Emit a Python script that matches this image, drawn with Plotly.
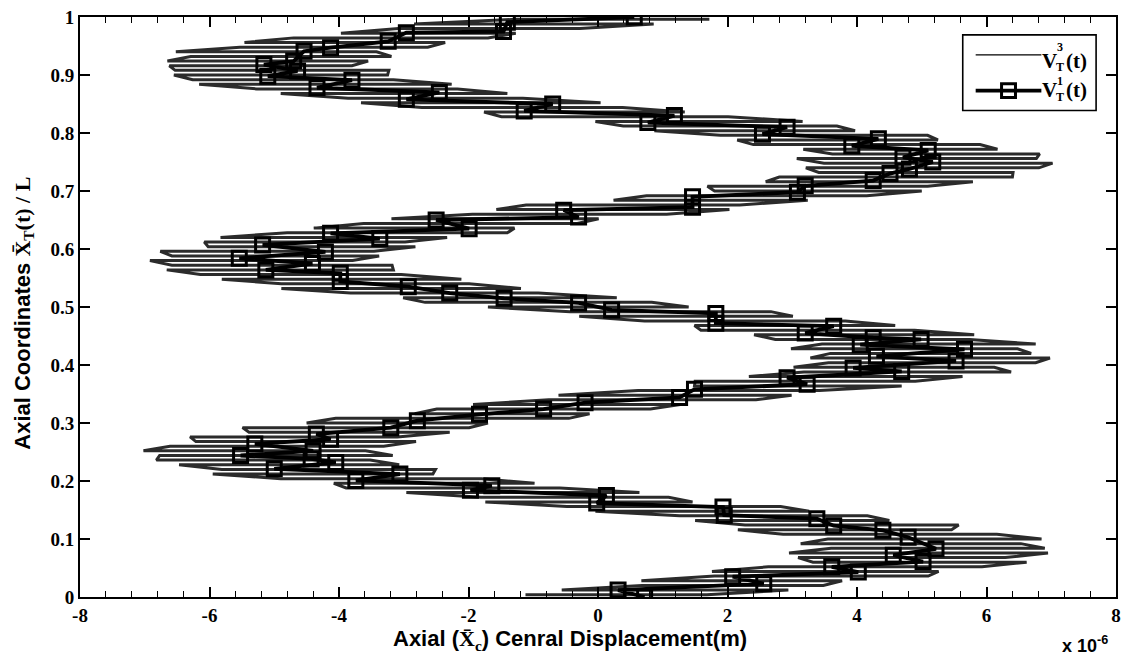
import plotly.graph_objects as go

# Displacement values are in units of 1e-6 m (the axis carries the "x 10^-6" factor).

# V_T^3(t): fine-scale response, one horizontal sweep per axial level
thin_y = [0.004, 0.012, 0.020, 0.028, 0.036, 0.044, 0.052, 0.060, 0.068, 0.076,
          0.084, 0.092, 0.100, 0.108, 0.116, 0.124, 0.132, 0.140, 0.148, 0.156,
          0.164, 0.172, 0.180, 0.188, 0.196, 0.204, 0.212, 0.220, 0.228, 0.236,
          0.244, 0.252, 0.260, 0.268, 0.276, 0.284, 0.292, 0.300, 0.308, 0.316,
          0.324, 0.332, 0.340, 0.348, 0.356, 0.364, 0.372, 0.380, 0.388, 0.396,
          0.404, 0.412, 0.420, 0.428, 0.436, 0.444, 0.452, 0.460, 0.468, 0.476,
          0.484, 0.492, 0.500, 0.508, 0.516, 0.524, 0.532, 0.540, 0.548, 0.556,
          0.564, 0.572, 0.580, 0.588, 0.596, 0.604, 0.612, 0.620, 0.628, 0.636,
          0.644, 0.652, 0.660, 0.668, 0.676, 0.684, 0.692, 0.700, 0.708, 0.716,
          0.724, 0.732, 0.740, 0.748, 0.756, 0.764, 0.772, 0.780, 0.788, 0.796,
          0.804, 0.812, 0.820, 0.828, 0.836, 0.844, 0.852, 0.860, 0.868, 0.876,
          0.884, 0.892, 0.900, 0.908, 0.916, 0.924, 0.932, 0.940, 0.948, 0.956,
          0.964, 0.972, 0.980, 0.988, 0.996]

thin_left = [-1.12, -0.56, 0.68, 0.67, 1.80, 1.76, 2.63, 3.32, 3.09, 2.95,
             3.60, 3.13, 3.55, 2.86, 2.16, 2.27, 1.50, 1.26, -0.04, -0.48,
             -1.74, -1.81, -2.96, -3.89, -4.08, -4.90, -5.95, -5.81, -6.47, -6.82,
             -6.77, -7.02, -6.61, -6.21, -6.30, -5.39, -5.49, -4.50, -4.05, -2.83,
             -2.49, -1.93, -0.76, -0.61, 0.62, 1.49, 1.50, 2.33, 3.18, 3.02,
             3.56, 3.28, 3.59, 2.98, 3.46, 2.74, 2.41, 1.59, 1.49, 0.72,
             -0.29, -0.43, -1.70, -2.67, -3.01, -3.82, -4.89, -4.89, -5.81, -6.14,
             -6.66, -6.58, -6.92, -6.58, -6.76, -6.02, -6.08, -5.83, -4.80, -4.39,
             -3.62, -3.19, -1.94, -1.57, -1.11, 0.24, 0.75, 1.80, 1.69, 2.59,
             2.80, 3.41, 3.21, 3.49, 3.07, 3.62, 3.17, 2.40, 2.15, 1.89,
             0.87, 0.39, -0.04, -1.49, -1.76, -2.72, -3.66, -3.86, -4.90, -5.27,
             -6.16, -6.26, -6.55, -6.53, -6.62, -6.65, -6.29, -6.52, -5.53, -5.46,
             -4.70, -3.97, -3.08, -2.84, -1.28]

thin_right = [1.68, 2.94, 3.48, 3.77, 5.10, 5.26, 5.93, 6.62, 6.29, 6.95,
              6.90, 6.53, 6.85, 6.16, 5.46, 5.57, 4.50, 4.16, 3.26, 2.82,
              1.46, 1.09, 0.64, -0.59, -0.98, -1.80, -2.55, -2.51, -3.07, -3.52,
              -3.17, -3.59, -3.31, -2.81, -3.10, -2.29, -1.99, -1.70, -0.45, -0.13,
              0.81, 1.27, 2.44, 2.99, 3.42, 4.69, 4.90, 5.63, 6.38, 6.12,
              6.76, 6.98, 6.69, 6.48, 6.76, 5.74, 5.81, 4.89, 4.59, 3.82,
              3.01, 2.67, 1.40, 0.83, 0.29, -0.92, -1.19, -1.99, -2.11, -3.04,
              -3.16, -3.18, -3.79, -3.38, -3.46, -2.82, -2.98, -2.33, -1.40, -1.29,
              -0.32, 0.01, 1.06, 2.03, 2.19, 3.24, 4.15, 5.00, 5.09, 5.79,
              6.40, 6.41, 6.81, 7.02, 6.77, 6.82, 6.17, 5.90, 5.25, 5.09,
              3.97, 3.69, 3.16, 2.01, 1.34, 0.38, 0.04, -1.16, -1.40, -2.17,
              -2.26, -3.16, -3.25, -3.23, -3.80, -3.55, -3.19, -3.42, -2.63, -2.36,
              -1.70, -1.27, -0.28, 0.86, 1.72]

# V_T^1(t): marked response
v1_y = [0.000, 0.012, 0.023, 0.035, 0.043, 0.052, 0.061, 0.072, 0.083, 0.103,
        0.115, 0.123, 0.135, 0.141, 0.155, 0.162, 0.175, 0.184, 0.192, 0.201,
        0.212, 0.221, 0.232, 0.238, 0.244, 0.252, 0.264, 0.272, 0.281, 0.292,
        0.304, 0.315, 0.324, 0.335, 0.344, 0.358, 0.367, 0.378, 0.389, 0.395,
        0.407, 0.415, 0.427, 0.435, 0.444, 0.447, 0.455, 0.467, 0.472, 0.489,
        0.495, 0.507, 0.515, 0.524, 0.535, 0.544, 0.558, 0.564, 0.575, 0.584,
        0.595, 0.607, 0.618, 0.627, 0.635, 0.650, 0.655, 0.667, 0.672, 0.690,
        0.698, 0.709, 0.718, 0.730, 0.738, 0.750, 0.758, 0.770, 0.778, 0.790,
        0.798, 0.810, 0.818, 0.830, 0.838, 0.850, 0.858, 0.870, 0.878, 0.891,
        0.898, 0.907, 0.918, 0.924, 0.941, 0.947, 0.958, 0.973, 0.975, 0.991, 1.000]

v1_x = [0.72, 0.31, 2.56, 2.08, 4.02, 3.61, 5.02, 4.56, 5.22, 4.79,
        4.40, 3.64, 3.38, 1.95, 1.93, -0.02, 0.13, -1.97, -1.64, -3.74,
        -3.06, -5.00, -4.05, -4.43, -5.52, -4.40, -5.30, -4.13, -4.35, -3.20,
        -2.79, -1.83, -0.84, -0.20, 1.26, 1.49, 3.23, 2.92, 4.69, 3.94,
        5.53, 4.30, 5.66, 4.05, 4.99, 4.25, 3.20, 3.64, 1.82, 1.82,
        0.21, -0.30, -1.45, -2.29, -2.93, -3.98, -3.98, -5.13, -4.41, -5.54,
        -4.21, -5.18, -3.37, -4.13, -1.99, -2.50, -0.30, -0.53, 1.46, 1.46,
        3.08, 3.20, 4.25, 4.51, 4.81, 5.17, 4.71, 5.10, 3.92, 4.33,
        2.54, 2.92, 0.77, 1.18, -1.14, -0.70, -2.96, -2.45, -4.34, -3.80,
        -5.10, -4.64, -5.16, -4.70, -4.54, -4.13, -3.24, -2.96, -1.46, -1.40, 0.56]

x_ticks = [-8, -6, -4, -2, 0, 2, 4, 6, 8]
x_tick_text = ["-8", "-6", "-4", "-2", "0", "2", "4", "6", "8"]
y_ticks = [0, 0.1, 0.2, 0.3, 0.4, 0.5, 0.6, 0.7, 0.8, 0.9, 1]
y_tick_text = ["0", "0.1", "0.2", "0.3", "0.4", "0.5", "0.6", "0.7", "0.8", "0.9", "1"]

# Build the sweep path: each level is traversed left->right or right->left in turn
sweep_x, sweep_y = [], []
for k, (yl, xl, xr) in enumerate(zip(thin_y, thin_left, thin_right)):
    if k % 2 == 0:
        sweep_x += [xl, xr]
    else:
        sweep_x += [xr, xl]
    sweep_y += [yl, yl]

fig = go.Figure()
fig.add_trace(go.Scatter(
    x=sweep_x, y=sweep_y, mode="lines",
    line=dict(color="#2b2b2b", width=3),
    name="V_T^3(t)", hoverinfo="skip",
))
fig.add_trace(go.Scatter(
    x=v1_x, y=v1_y, mode="lines+markers",
    line=dict(color="black", width=3.8),
    marker=dict(symbol="square-open", size=14, color="black",
                line=dict(width=3, color="black")),
    name="V_T^1(t)", hoverinfo="skip",
))

SERIF = "Liberation Serif"
SANS = "Liberation Sans"
TICKFONT = dict(family=SERIF, size=19, color="black", weight="bold")

common_axis = dict(
    showline=True, linewidth=2, linecolor="black", mirror="ticks",
    ticks="inside", ticklen=10, tickwidth=1.6, tickcolor="black",
    showgrid=False, zeroline=False, tickfont=TICKFONT,
)

fig.update_xaxes(range=[-8, 8], tickmode="array", tickvals=x_ticks, ticktext=x_tick_text,
                 minor=dict(dtick=0.4, ticks="inside", ticklen=6, tickwidth=1.4,
                            tickcolor="black", showgrid=False),
                 **common_axis)
fig.update_yaxes(range=[0, 1], tickmode="array", tickvals=y_ticks, ticktext=y_tick_text,
                 **common_axis)

L, R, T, B = 80, 7, 14, 61
W, H = 1128, 658
PW, PH = W - L - R, H - T - B


def px(xp):
    return (xp - L) / PW


def py(yp):
    return (H - B - yp) / PH


annotations = [
    dict(text=f'Axial (<span style="font-family:{SERIF}">X\u0304<sub>c</sub></span>) Cenral Displacement(m)',
         x=px(572), y=py(640), xref="paper", yref="paper", showarrow=False,
         xanchor="center", yanchor="middle",
         font=dict(family=SANS, size=22, color="black", weight="bold")),
    dict(text=f'Axial Coordinates <span style="font-family:{SERIF}">X\u0304<sub>T</sub>(t) / L</span>',
         x=px(24), y=py(312), xref="paper", yref="paper", showarrow=False,
         textangle=-90, xanchor="center", yanchor="middle",
         font=dict(family=SANS, size=22, color="black", weight="bold")),
    dict(text="x 10<sup>-6</sup>",
         x=px(1090), y=py(645), xref="paper", yref="paper", showarrow=False,
         xanchor="center", yanchor="middle",
         font=dict(family=SANS, size=18, color="black", weight="bold")),
]

# Legend entries (V with stacked sub/superscript)
LEG_FONT = dict(family=SERIF, size=21, color="black", weight="bold")
LEG_SMALL = dict(family=SERIF, size=12, color="black", weight="bold")
for yc, sup, d_sup, d_sub in [(58, "3", -14, 6), (87, "1", -9, 7)]:
    annotations += [
        dict(text="V", x=px(1045), y=py(yc), xref="paper", yref="paper", showarrow=False,
             xanchor="left", yanchor="middle", font=LEG_FONT),
        dict(text=sup, x=px(1060), y=py(yc + d_sup), xref="paper", yref="paper", showarrow=False,
             xanchor="left", yanchor="middle", font=LEG_SMALL),
        dict(text="T", x=px(1059), y=py(yc + d_sub), xref="paper", yref="paper", showarrow=False,
             xanchor="left", yanchor="middle", font=LEG_SMALL),
        dict(text="(t)", x=px(1069), y=py(yc), xref="paper", yref="paper", showarrow=False,
             xanchor="left", yanchor="middle", font=LEG_FONT),
    ]

shapes = [
    dict(type="rect", xref="paper", yref="paper", x0=px(967), x1=px(1101), y0=py(108), y1=py(32),
         line=dict(color="black", width=1.6), fillcolor="white", layer="above"),
    dict(type="line", xref="paper", yref="paper", x0=px(980), x1=px(1046), y0=py(52), y1=py(52),
         line=dict(color="black", width=1.3)),
    dict(type="line", xref="paper", yref="paper", x0=px(980), x1=px(1046), y0=py(88), y1=py(88),
         line=dict(color="black", width=3.8)),
    dict(type="rect", xref="paper", yref="paper", x0=px(1006), x1=px(1020), y0=py(95), y1=py(81),
         line=dict(color="black", width=3), fillcolor="rgba(0,0,0,0)"),
]

fig.update_layout(
    width=W, height=H,
    margin=dict(l=L, r=R, t=T, b=B),
    plot_bgcolor="white", paper_bgcolor="white",
    showlegend=False,
    annotations=annotations,
    shapes=shapes,
)

fig.write_html("out.html")
